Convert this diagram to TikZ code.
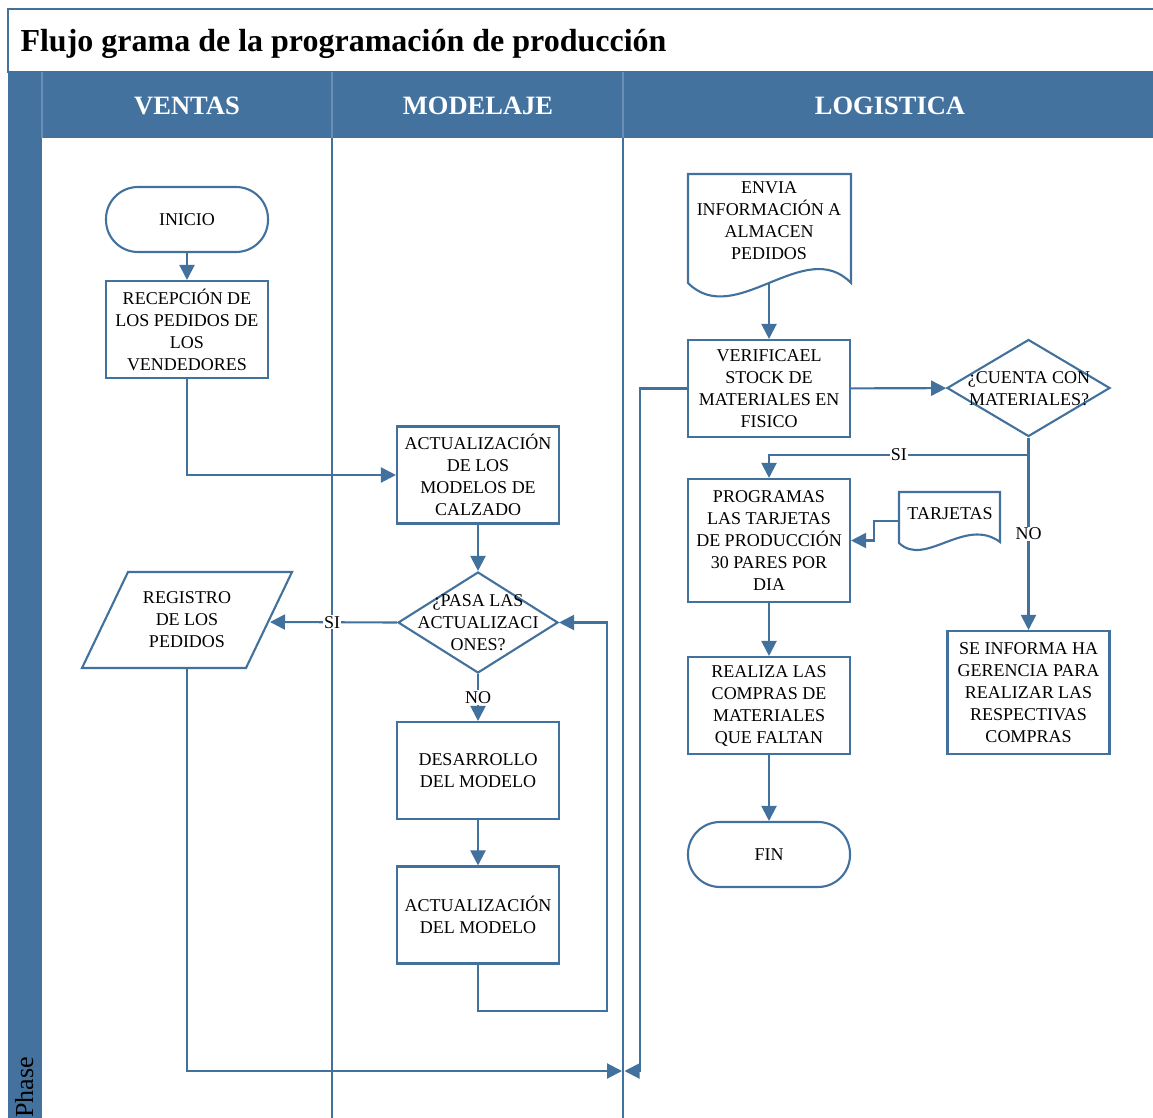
\documentclass[tikz,border=0pt]{standalone}
\usepackage{fontspec}
\setmainfont{Liberation Serif}
\usetikzlibrary{shapes.geometric,arrows.meta}
\definecolor{laneblue}{RGB}{65,113,156}
\definecolor{headblue}{RGB}{68,114,158}
\definecolor{seplight}{RGB}{104,143,181}

\begin{document}
\begin{tikzpicture}[x=1pt,y=-1pt,
  every node/.style={font=\fontsize{18}{22}\selectfont, text=black},
  boxproc/.style={draw=laneblue, line width=2.1pt, fill=white, rectangle,
    minimum width=162pt, minimum height=97pt, align=center, inner sep=2pt},
  tallproc/.style={boxproc, minimum height=123pt},
  terminal/.style={draw=laneblue, line width=2.1pt, fill=white, rectangle,
    rounded corners=32pt, minimum width=162pt, minimum height=65pt, align=center},
  decision/.style={draw=laneblue, line width=2.1pt, fill=white, diamond,
    inner sep=0pt},
  outline/.style={draw=laneblue, line width=2.1pt, fill=white},
  flow/.style={draw=laneblue, line width=2.1pt, -{Triangle[length=15pt,width=15pt]}},
  lbl/.style={fill=white, inner sep=1pt},
  txt/.style={align=center, inner sep=0pt},
  hdr/.style={text=white, font=\fontsize{26.5}{30}\selectfont\bfseries},
  laneline/.style={draw=laneblue, line width=2.2pt},
  hdrsep/.style={draw=seplight, line width=1.2pt},
]
\useasboundingbox (0,0) rectangle (1153,1118);

% --- frame, title and lane headers ---
\fill[white] (0,0) rectangle (1153,1118);
\draw[laneblue, line width=1.8pt, fill=white] (8,9) rectangle (1154,72);
\node[anchor=base west, font=\fontsize{32}{36}\selectfont\bfseries] (title) at (17,52)
  {Flujo grama de la programación de producción};
\fill[headblue] (8,72) rectangle (1153,138);
\fill[headblue] (8,72) rectangle (42,1118);
\draw[hdrsep] (42,72) -- (42,138);
\draw[hdrsep] (332,72) -- (332,138);
\draw[hdrsep] (623,72) -- (623,138);
\node[hdr] (h-ventas) at (187,106) {VENTAS};
\node[hdr] (h-modelaje) at (478,106) {MODELAJE};
\node[hdr] (h-logistica) at (890,106) {LOGISTICA};
\node[rotate=90, anchor=base west, font=\fontsize{26}{30}\selectfont] (phase) at (33,1121) {Phase};

% lane separators
\draw[laneline] (332,138) -- (332,1118);
\draw[laneline] (623,138) -- (623,1118);

% --- VENTAS ---
\node[terminal] (inicio) at (187,219.5) {INICIO};
\node[boxproc] (recep) at (187,329.5) {RECEPCIÓN DE\\LOS PEDIDOS DE\\LOS\\VENDEDORES};
\draw[outline] (128,572) -- (292,572) -- (246,668) -- (82,668) -- cycle;
\node[txt] (registro) at (187,620) {REGISTRO\\DE LOS\\PEDIDOS};
\coordinate (registro-in) at (270,622);
\coordinate (registro-out) at (187,668);

% --- MODELAJE ---
\node[boxproc] (actcal) at (478,475) {ACTUALIZACIÓN\\DE LOS\\MODELOS DE\\CALZADO};
\node[decision, minimum width=160pt, minimum height=101pt] (pasa) at (478,622.5) {};
\node[txt] (pasa-t) at (478,623) {¿PASA LAS\\ACTUALIZACI\\ONES?};
\node[boxproc] (desarrollo) at (478,770.5) {DESARROLLO\\DEL MODELO};
\node[boxproc] (actmod) at (478,915) {ACTUALIZACIÓN\\DEL MODELO};

% --- LOGISTICA ---
\draw[outline] (688,174) -- (851,174) -- (851,283)
  .. controls (805,235) and (735,330) .. (688,283) -- cycle;
\node[txt] (envia) at (769,221) {ENVIA\\INFORMACIÓN A\\ALMACEN\\PEDIDOS};
\coordinate (envia-out) at (769,284);
\node[boxproc] (verifica) at (769,388.5) {VERIFICAEL\\STOCK DE\\MATERIALES EN\\FISICO};
\node[decision, minimum width=163pt, minimum height=97pt] (cuenta) at (1028.5,388) {};
\node[txt] (cuenta-t) at (1029,389) {¿CUENTA CON\\MATERIALES?};
\node[tallproc] (programas) at (769,540.5) {PROGRAMAS\\LAS TARJETAS\\DE PRODUCCIÓN\\30 PARES POR\\DIA};
\draw[outline] (899,492) -- (1000,492) -- (1000,542)
  .. controls (965,516) and (925,568) .. (899,543) -- cycle;
\node[txt] (tarjetas) at (950,514) {TARJETAS};
\coordinate (tarj-in) at (899,521);
\coordinate (tarj-bend) at (874,521);
\node[boxproc] (realiza) at (769,705.5) {REALIZA LAS\\COMPRAS DE\\MATERIALES\\QUE FALTAN};
\node[terminal] (fin) at (769,854.5) {FIN};
\node[tallproc] (seinforma) at (1028.5,692.5) {SE INFORMA HA\\GERENCIA PARA\\REALIZAR LAS\\RESPECTIVAS\\COMPRAS};

% --- connectors ---
\coordinate (loop-a) at (478,1011);
\coordinate (loop-b) at (607,1011);
\coordinate (join-l) at (622,1071);
\coordinate (rise) at (640,1071);
\coordinate (join-r) at (624.5,1071);
\coordinate (si-turn) at (1028.5,455);

\draw[flow] (inicio) -- (recep);
\draw[flow] (recep.south) |- (actcal.west);
\draw[flow] (actcal) -- (pasa);
\draw[flow] (pasa.west) -- (registro-in) node[lbl, pos=0.51] {SI};
\draw[flow] (pasa.south) -- (desarrollo.north) node[lbl, pos=0.5] {NO};
\draw[flow] (desarrollo) -- (actmod);
\draw[flow] (actmod.south) -- (loop-a) -- (loop-b) |- (pasa.east);
\draw[flow] (registro-out) |- (join-l);
\draw[flow] (verifica.west) -| (rise) -- (join-r);
\draw[flow] (envia-out) -- (verifica.north);
\draw[flow] (verifica) -- (cuenta);
\draw[flow] (cuenta.south) -- (si-turn) -| (programas.north) node[lbl, pos=0.25] {SI};
\draw[flow] (cuenta.south) -- (seinforma.north) node[lbl, pos=0.5] {NO};
\draw[flow] (tarj-in) -- (tarj-bend) |- (programas.east);
\draw[flow] (programas) -- (realiza);
\draw[flow] (realiza) -- (fin);
\end{tikzpicture}
\end{document}
